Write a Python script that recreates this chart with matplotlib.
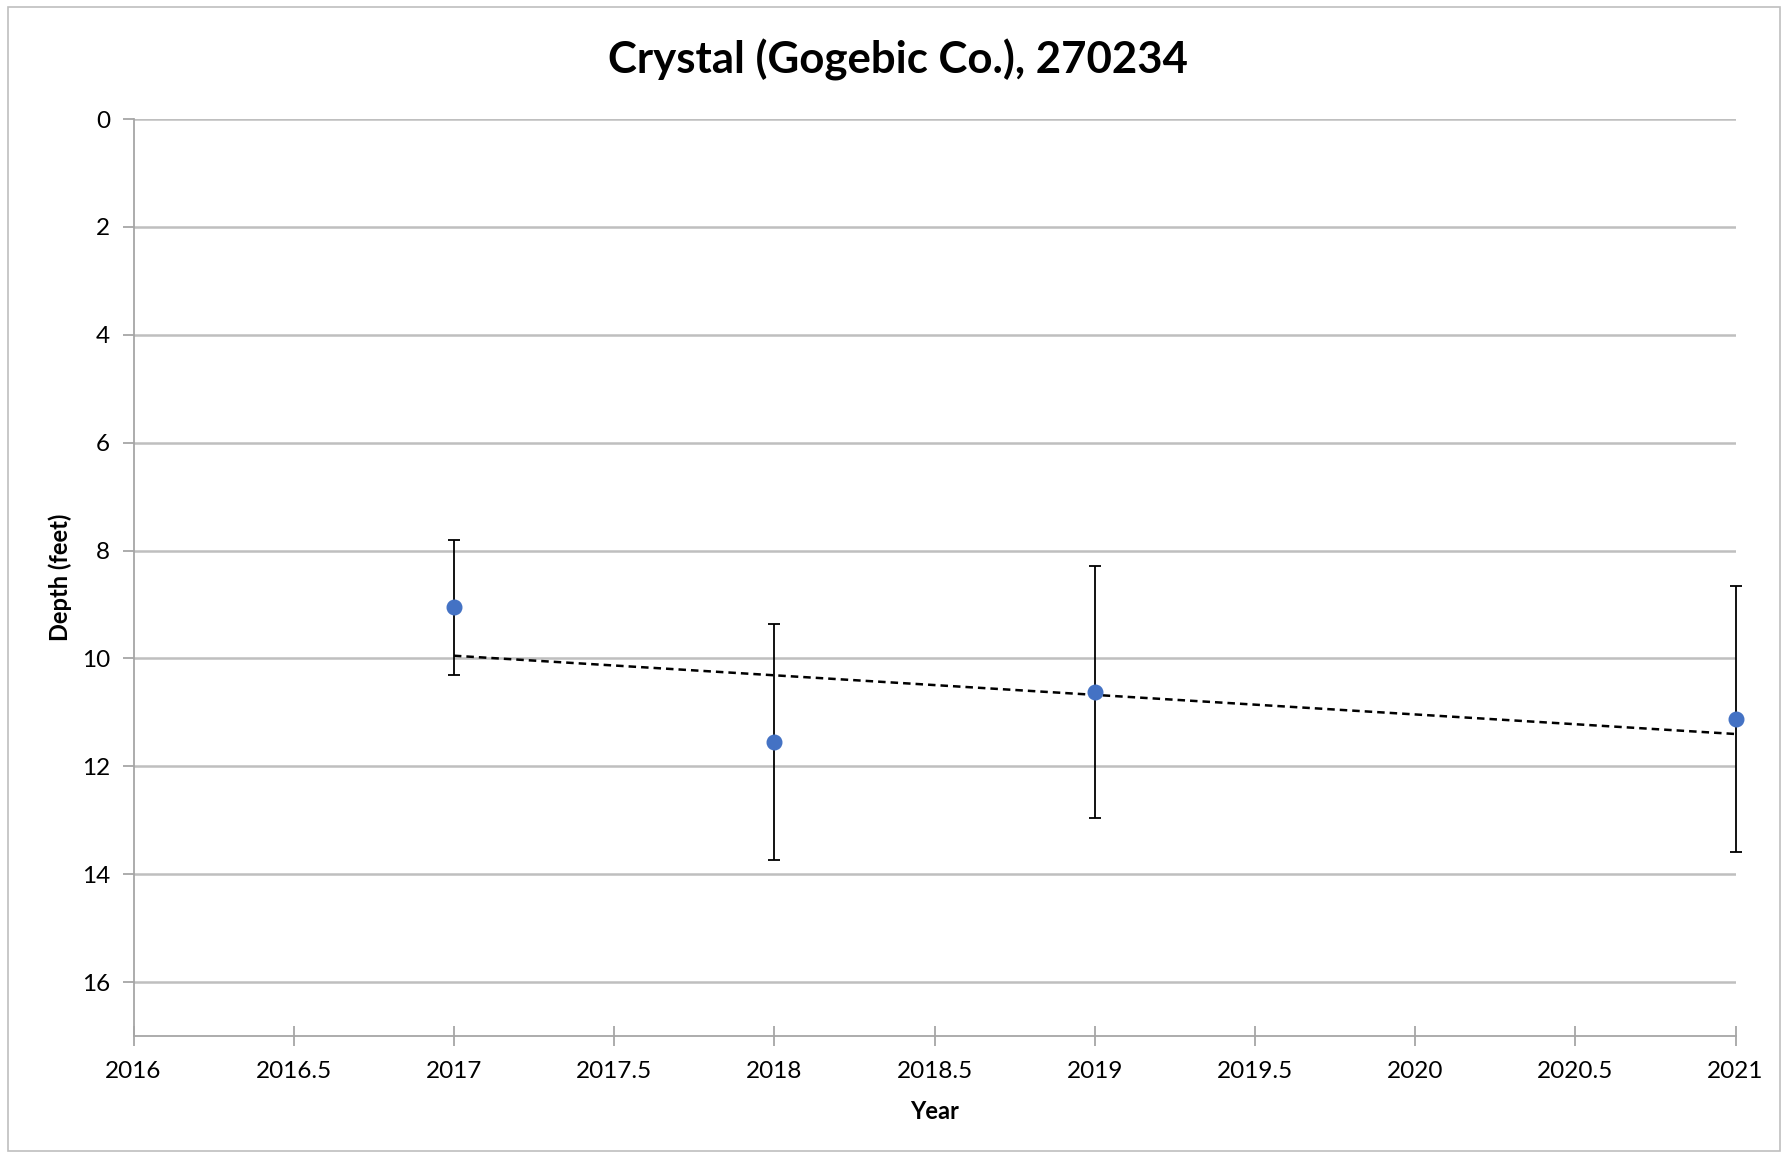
import numpy as np
import matplotlib.pyplot as plt
from matplotlib.patches import Rectangle

plt.rcParams['font.family'] = ['Lato', 'DejaVu Sans']

years = [2017, 2018, 2019, 2021]
depth = [9.05, 11.55, 10.62, 11.12]
err = [1.25, 2.18, 2.33, 2.47]
xticks = [2016, 2016.5, 2017, 2017.5, 2018, 2018.5, 2019, 2019.5, 2020, 2020.5, 2021]
yticks = [0, 2, 4, 6, 8, 10, 12, 14, 16]

fig = plt.figure(figsize=(17.89, 11.53), dpi=100)
W, H = 1789, 1153
ax = fig.add_axes([133.5 / W, 1 - 1036 / H, (1735.5 - 133.5) / W, (1036 - 119) / H])

# outer chart border
fig.patches.append(Rectangle((8 / W, 2 / H), (1780 - 8) / W, (1146 - 2) / H,
                             transform=fig.transFigure, fill=False,
                             edgecolor='#BFBFBF', linewidth=1.2))

markers, caps, bars = ax.errorbar(years, depth, yerr=err, fmt='o', color='#4472C4',
                                  markersize=10.5, ecolor='black', elinewidth=1.3,
                                  capsize=4.5, capthick=1.3, zorder=3)
markers.set_clip_on(False)
for c in caps:
    c.set_clip_on(False)
for bl in bars:
    bl.set_clip_on(False)

# linear trend line
k, b = np.polyfit(years, depth, 1)
tx = np.array([min(years), max(years)])
ax.plot(tx, k * tx + b, color='black', linestyle=(0, (3, 2)), linewidth=1.8, zorder=2)

ax.set_xlim(2016, 2021)
ax.set_ylim(17, 0)
ax.set_xticks(xticks)
ax.set_xticklabels([f'{t:g}' for t in xticks])
ax.set_yticks(yticks)
ax.grid(axis='y', color='#BFBFBF', linewidth=1.8)
ax.set_axisbelow(True)

for s in ['top', 'right']:
    ax.spines[s].set_visible(False)
for s in ['left', 'bottom']:
    ax.spines[s].set_color('#A6A6A6')
    ax.spines[s].set_linewidth(1.3)
ax.tick_params(axis='x', direction='inout', length=14, width=1.3, color='#A6A6A6',
               labelsize=17.5, pad=11)
ax.tick_params(axis='y', direction='out', length=8, width=1.3, color='#A6A6A6',
               labelsize=17.5, pad=9)

ax.set_xlabel('Year', fontsize=17, fontweight='bold', labelpad=13)
ax.set_ylabel('Depth (feet)', fontsize=17, fontweight='bold', labelpad=7)
fig.text(0.502, 1 - 60 / H, 'Crystal (Gogebic Co.), 270234', ha='center', va='center',
         fontsize=31.5, fontweight='bold')

fig.savefig('out.png', dpi=100)
